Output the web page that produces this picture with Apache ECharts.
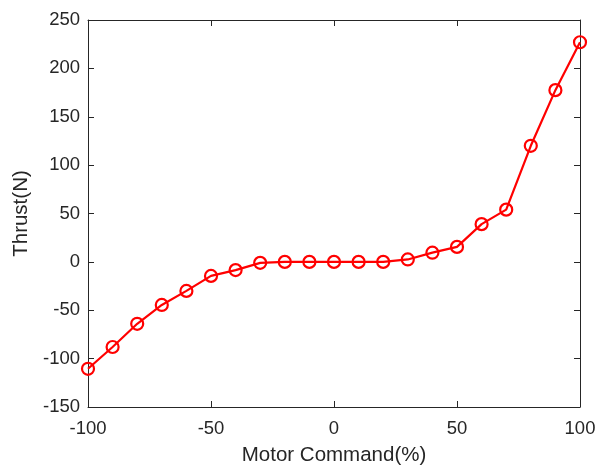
<!DOCTYPE html>
<html>
<head>
<meta charset="utf-8">
<script src="https://cdn.jsdelivr.net/npm/echarts@6/dist/echarts.min.js"></script>
<style>
  html, body { margin: 0; padding: 0; background: #fff; }
  #chart { width: 596px; height: 468px; }
</style>
</head>
<body>
<div id="chart"></div>
<script>
  // motor command (%) and measured thrust (N)
  var command = [-100, -90, -80, -70, -60, -50, -40, -30, -20, -10, 0, 10, 20, 30, 40, 50, 60, 70, 80, 90, 100];
  var thrust = [-110.5, -88, -64, -44.5, -30, -14.5, -8.5, -1, 0, 0, 0, 0, 0, 2.5, 9.5, 15.5, 39, 54, 120, 177.5, 227];

  var axisColor = '#262626';
  var data = [];
  for (var i = 0; i < command.length; i++) {
    data.push([command[i], thrust[i]]);
  }

  var chart = echarts.init(document.getElementById('chart'));
  var option = {
    animation: false,
    grid: { left: 88, top: 20, right: 16, bottom: 61, outerBoundsMode: 'none', containLabel: false },
    xAxis: [{
      type: 'value', min: -100, max: 100, interval: 50,
      name: 'Motor Command(%)', nameLocation: 'middle', nameGap: 38,
      nameTextStyle: { color: axisColor, fontSize: 20.5, fontFamily: 'Liberation Sans' },
      axisLine: { onZero: false, lineStyle: { color: axisColor, width: 1 } },
      axisTick: { inside: true, length: 6, lineStyle: { color: axisColor } },
      axisLabel: { color: axisColor, fontSize: 18.5, fontFamily: 'Liberation Sans', margin: 12 },
      splitLine: { show: false }
    }, {
      type: 'value', min: -100, max: 100, interval: 50, position: 'top',
      axisLine: { onZero: false, lineStyle: { color: axisColor, width: 1 } },
      axisTick: { inside: true, length: 6, lineStyle: { color: axisColor } },
      axisLabel: { show: false },
      splitLine: { show: false }
    }],
    yAxis: [{
      type: 'value', min: -150, max: 250, interval: 50,
      name: 'Thrust(N)', nameLocation: 'middle', nameGap: 56, nameRotate: 90,
      nameTextStyle: { color: axisColor, fontSize: 20.5, fontFamily: 'Liberation Sans' },
      axisLine: { show: true, onZero: false, lineStyle: { color: axisColor, width: 1 } },
      axisTick: { show: true, inside: true, length: 6, lineStyle: { color: axisColor } },
      axisLabel: { color: axisColor, fontSize: 18.5, fontFamily: 'Liberation Sans', margin: 8 },
      splitLine: { show: false }
    }, {
      type: 'value', min: -150, max: 250, interval: 50, position: 'right',
      axisLine: { show: true, onZero: false, lineStyle: { color: axisColor, width: 1 } },
      axisTick: { show: true, inside: true, length: 6, lineStyle: { color: axisColor } },
      axisLabel: { show: false },
      splitLine: { show: false }
    }],
    series: [{
      type: 'line',
      data: data,
      symbol: 'circle',
      symbolSize: 12,
      lineStyle: { color: '#ff0000', width: 2.2 },
      itemStyle: { color: 'transparent', borderColor: '#ff0000', borderWidth: 2.2 },
      z: 3
    }]
  };
  chart.setOption(option);
</script>
</body>
</html>
